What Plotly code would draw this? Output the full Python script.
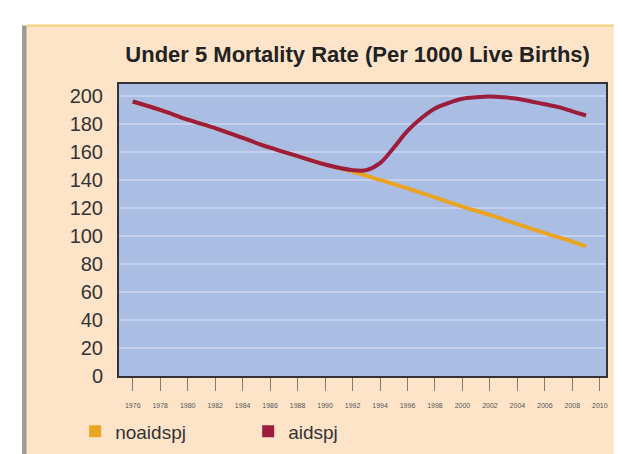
import plotly.graph_objects as go

years_aids = [1976, 1978, 1980, 1982, 1984, 1986, 1988, 1990, 1992, 1993, 1994, 1995, 1996,
              1997, 1998, 1999, 2000, 2001, 2002, 2003, 2004, 2005, 2006, 2007, 2008, 2009]
aidspj = [196, 190, 183, 177, 170, 163, 157, 151, 147, 147, 152, 163, 175,
          184, 191, 195, 198, 199, 199.5, 199, 198, 196, 194, 192, 189, 186]

years_noaids = [1976, 1978, 1980, 1982, 1984, 1986, 1988, 1990, 1992, 1994, 1996,
                1998, 2000, 2002, 2004, 2006, 2008, 2009]
noaidspj = [196, 190, 183, 177, 170, 163, 157, 151, 146, 140, 134,
            127.5, 121, 115, 108.5, 102, 96, 92.5]

tick_years = list(range(1976, 2011, 2))
y_ticks = list(range(0, 201, 20))

title_text = "Under 5 Mortality Rate (Per 1000 Live Births)"
orange = "#e9a423"
maroon = "#9c1d3e"

fig = go.Figure()
fig.add_trace(go.Scatter(x=years_noaids, y=noaidspj, mode="lines", name="noaidspj",
                         line=dict(color=orange, width=4, shape="spline"), showlegend=False))
fig.add_trace(go.Scatter(x=years_aids, y=aidspj, mode="lines", name="aidspj",
                         line=dict(color=maroon, width=4, shape="spline", smoothing=1.0), showlegend=False))
# legend entries with square swatches
fig.add_trace(go.Scatter(x=[None], y=[None], mode="markers", name="noaidspj",
                         marker=dict(symbol="square", size=10, color=orange)))
fig.add_trace(go.Scatter(x=[None], y=[None], mode="markers", name="aidspj",
                         marker=dict(symbol="square", size=10, color=maroon)))

fig.update_layout(
    width=622, height=454,
    margin=dict(l=111, r=24, t=76, b=72),
    paper_bgcolor="#fde4c9",
    plot_bgcolor="#aabde2",
    title=dict(text="<b>" + title_text + "</b>", xref="paper", x=0.49, xanchor="center",
               y=0.897, yanchor="middle",
               font=dict(family="Liberation Sans", size=22, color="#222222")),
    xaxis=dict(range=[1975.0, 2010.45], tickvals=tick_years, ticktext=[str(t) for t in tick_years],
               ticks="outside", ticklen=13, tickcolor="#8a7a6a", tickwidth=1,
               ticklabelstandoff=9, automargin=False,
               tickfont=dict(family="Liberation Sans", size=7, color="#555555"),
               showgrid=False, zeroline=False, showline=True, linecolor="#333333", linewidth=2,
               mirror=True),
    yaxis=dict(range=[0, 208.5], tickvals=y_ticks, ticks="", ticklabelstandoff=10, automargin=False,
               tickfont=dict(family="Liberation Sans", size=20, color="#333333"),
               showgrid=True, gridcolor="#c3d0ee", gridwidth=1.5, zeroline=False,
               showline=True, linecolor="#333333", linewidth=2, mirror=True),
    legend=dict(orientation="h", x=-0.09, xanchor="left", y=-0.19, yanchor="middle",
                font=dict(family="Liberation Sans", size=19, color="#333333"),
                bgcolor="rgba(0,0,0,0)", entrywidth=128, itemsizing="constant",
                itemwidth=30),
    shapes=[
        dict(type="rect", xref="paper", yref="paper", x0=-0.3, x1=1.2, y0=1.2, y1=1.28,
             fillcolor="white", line=dict(width=0), layer="below"),
        dict(type="rect", xref="paper", yref="paper", x0=-0.3, x1=-0.199, y0=-0.3, y1=1.28,
             fillcolor="white", line=dict(width=0), layer="below"),
        dict(type="rect", xref="paper", yref="paper", x0=-0.199, x1=-0.19, y0=-0.3, y1=1.2,
             fillcolor="#9a9a96", line=dict(width=0), layer="below"),
        dict(type="line", xref="paper", yref="paper", x0=-0.19, x1=1.2, y0=1.2, y1=1.2,
             line=dict(color="#f0cf78", width=2), layer="below"),
    ],
)

fig.write_html("out.html")
